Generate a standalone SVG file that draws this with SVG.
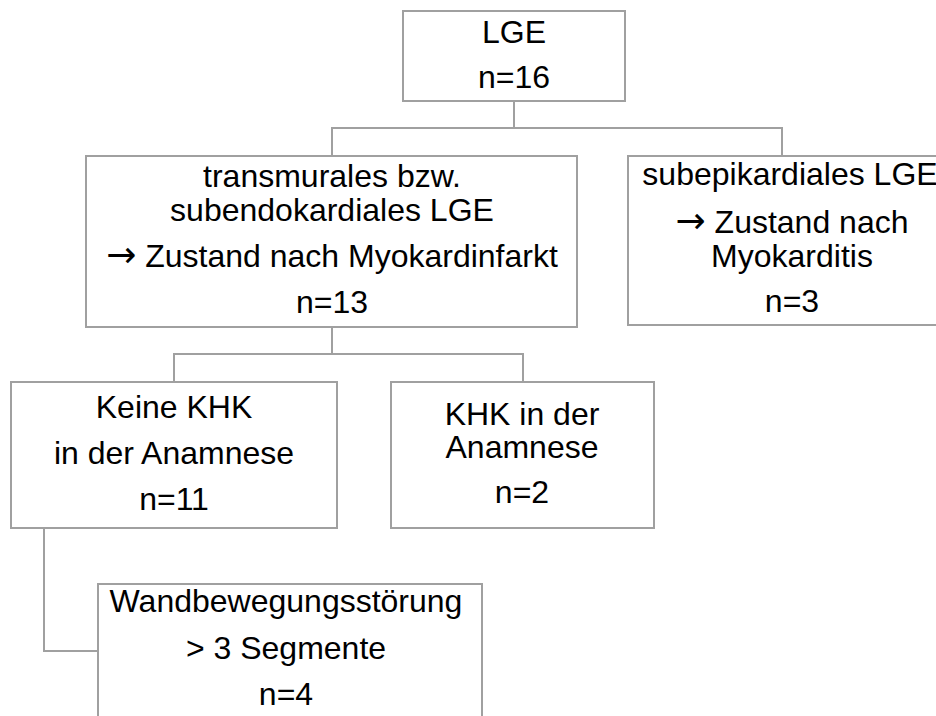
<svg xmlns="http://www.w3.org/2000/svg" width="936" height="716" viewBox="0 0 936 716">
<style>
rect.box{fill:#ffffff;stroke:#a0a0a0;stroke-width:2}
.conn path{fill:none;stroke:#a0a0a0;stroke-width:2}
text{font-family:"Liberation Sans",Arial,sans-serif;font-size:32px;fill:#000000;text-anchor:middle}
tspan.arr{font-family:"DejaVu Sans",sans-serif;font-size:36px}
</style>
<rect x="0" y="0" width="936" height="716" fill="#ffffff"/>
<g class="conn" id="connectors">
<path d="M514 101 V128 H782 V156"/>
<path d="M514 128 H332 V156"/>
<path d="M332 327 V354 H174 V382"/>
<path d="M332 354 H523 V382"/>
<path d="M44 528 V651 H98"/>
</g>
<g id="n_lge">
<rect class="box" x="403" y="11" width="222" height="90"/>
<text x="514" y="43">LGE</text>
<text x="514" y="88">n=16</text>
</g>
<g id="n_transmural">
<rect class="box" x="86" y="156" width="491" height="171"/>
<text x="332" y="187">transmurales bzw.</text>
<text x="332" y="221">subendokardiales LGE</text>
<text x="332" y="267"><tspan class="arr">→</tspan> Zustand nach Myokardinfarkt</text>
<text x="332" y="313">n=13</text>
</g>
<g id="n_subepi">
<rect class="box" x="628" y="156" width="325" height="169"/>
<text x="790" y="185">subepikardiales LGE</text>
<text x="792" y="233"><tspan class="arr">→</tspan> Zustand nach</text>
<text x="792" y="267">Myokarditis</text>
<text x="792" y="312">n=3</text>
</g>
<g id="n_keinekhk">
<rect class="box" x="11" y="382" width="326" height="146"/>
<text x="174" y="418">Keine KHK</text>
<text x="174" y="464">in der Anamnese</text>
<text x="174" y="510">n=11</text>
</g>
<g id="n_khk">
<rect class="box" x="391" y="382" width="263" height="146"/>
<text x="522" y="425">KHK in der</text>
<text x="522" y="458">Anamnese</text>
<text x="522" y="503">n=2</text>
</g>
<g id="n_wand">
<rect class="box" x="98" y="584" width="384" height="150"/>
<text x="286" y="612">Wandbewegungsstörung</text>
<text x="286" y="659">&gt; 3 Segmente</text>
<text x="286" y="705">n=4</text>
</g>
</svg>
